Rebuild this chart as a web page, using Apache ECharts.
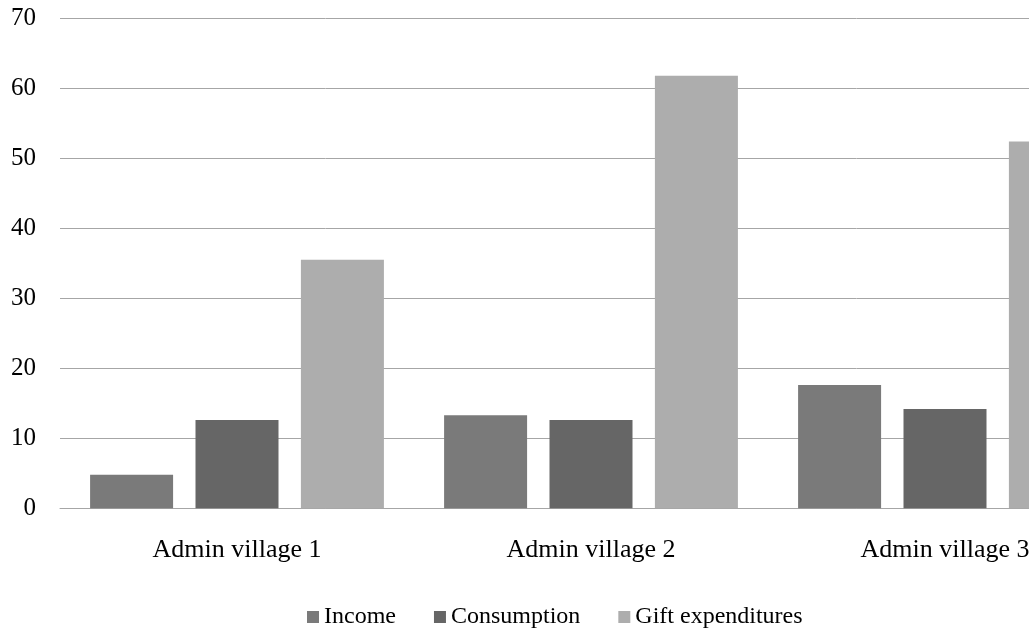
<!DOCTYPE html>
<html>
<head>
<meta charset="utf-8">
<script src="https://cdn.jsdelivr.net/npm/echarts@6/dist/echarts.min.js"></script>
<style>
  html, body { margin: 0; padding: 0; background: #fff; overflow: hidden; }
  /* the original plot runs past the right edge of the picture */
  #chart { width: 1122px; height: 631px; }
</style>
</head>
<body>
<div id="chart"></div>
<script>
// data
const villages = ['Admin village 1', 'Admin village 2', 'Admin village 3'];
const income = [4.8, 13.3, 17.6];
const consumption = [12.6, 12.6, 14.2];
const gift = [35.5, 61.8, 52.4];
const seriesNames = ['Income', 'Consumption', 'Gift expenditures'];
const seriesColors = ['#7a7a7a', '#666666', '#adadad'];

const font = '"Times New Roman", "Liberation Serif", serif';
const chart = echarts.init(document.getElementById('chart'));

chart.setOption({
  backgroundColor: '#fff',
  animation: false,
  textStyle: { fontFamily: font, color: '#000' },
  grid: { left: 60, right: 0, top: 18.3, bottom: 122.7, outerBoundsMode: 'none' },
  legend: {
    left: 302, top: 600,
    icon: 'rect', itemWidth: 12, itemHeight: 12, itemGap: 38,
    textStyle: { fontFamily: font, fontSize: 24, color: '#000' },
    data: seriesNames,
  },
  xAxis: {
    type: 'category', data: villages,
    axisTick: { show: false },
    axisLine: { lineStyle: { color: '#a6a6a6', width: 1 } },
    axisLabel: { fontFamily: font, fontSize: 26, color: '#000', margin: 29 },
  },
  yAxis: {
    type: 'value', min: 0, max: 70, interval: 10,
    axisLine: { show: false }, axisTick: { show: false },
    axisLabel: { fontFamily: font, fontSize: 25, color: '#000', margin: 24 },
    splitLine: { lineStyle: { color: '#a6a6a6', width: 1 } },
  },
  series: [
    { name: seriesNames[0], type: 'bar', data: income, barWidth: 83, barGap: '27%',
      itemStyle: { color: seriesColors[0] } },
    { name: seriesNames[1], type: 'bar', data: consumption, barWidth: 83, barGap: '27%',
      itemStyle: { color: seriesColors[1] } },
    { name: seriesNames[2], type: 'bar', data: gift, barWidth: 83, barGap: '27%',
      itemStyle: { color: seriesColors[2] } },
  ],
});
</script>
</body>
</html>
